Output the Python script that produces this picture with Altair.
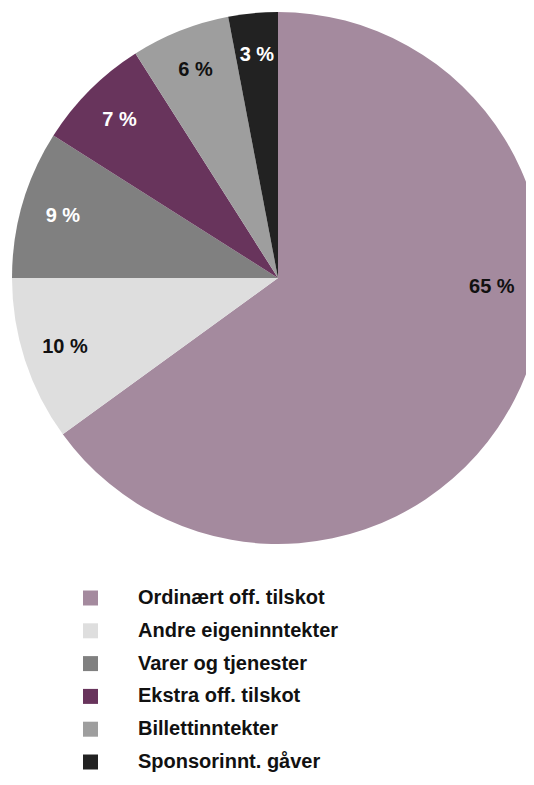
import altair as alt
import pandas as pd
import math

categories = ["Ordinært off. tilskot", "Andre eigeninntekter", "Varer og tjenester",
              "Ekstra off. tilskot", "Billettinntekter", "Sponsorinnt. gåver"]
values = [65, 10, 9, 7, 6, 3]
colors = ["#a48a9e", "#dedede", "#808080", "#68345c", "#9e9e9e", "#222222"]
dark_label = ["Ordinært off. tilskot", "Andre eigeninntekter", "Billettinntekter"]

df = pd.DataFrame({"cat": categories, "value": values, "idx": list(range(len(values)))})
df["label"] = df["value"].astype(str) + " %"

FONT = "Liberation Sans"
CX, CY, R = 270, 270, 266
theta_scale = alt.Scale(domain=[0, 100], range=[0, 2 * math.pi])
color_scale = alt.Scale(domain=categories, range=colors)

base = alt.Chart(df)

arcs = base.mark_arc(outerRadius=R, stroke=None).encode(
    theta=alt.Theta("value:Q", stack=True, scale=theta_scale),
    order=alt.Order("idx:Q"),
    color=alt.Color("cat:N", scale=color_scale, legend=None),
    x=alt.value(CX),
    y=alt.value(CY),
)

labels = base.transform_window(
    cum="sum(value)", sort=[alt.SortField("idx")], frame=[None, 0]
).transform_calculate(
    mid="datum.idx == 0 ? datum.value * 0.395 : datum.cum - datum.value / 2",
    lr="datum.idx == 0 ? 214 : 224",
).mark_text(font=FONT, fontWeight="bold", fontSize=20,
            align="center", baseline="middle").encode(
    theta=alt.Theta("mid:Q", scale=theta_scale),
    radius=alt.Radius("lr:Q", scale=None),
    text="label:N",
    color=alt.condition(alt.FieldOneOfPredicate(field="cat", oneOf=dark_label),
                        alt.value("#111111"), alt.value("#ffffff")),
    x=alt.value(CX),
    y=alt.value(CY),
)

leg_y = alt.Y("cat:N", sort=categories, axis=None,
              scale=alt.Scale(type="point", range=[590, 754], padding=0))

leg_sq = base.mark_square(size=225, opacity=1).encode(
    x=alt.value(82.5),
    y=leg_y,
    color=alt.Color("cat:N", scale=color_scale, legend=None),
)

leg_txt = base.mark_text(font=FONT, fontWeight="bold", fontSize=20, align="left",
                         baseline="middle", color="#111111").encode(
    x=alt.value(130),
    y=leg_y,
    text="cat:N",
)

chart = alt.layer(arcs, labels, leg_sq, leg_txt).properties(
    width=518, height=768, autosize=alt.AutoSizeParams(type="none"), padding=0
).configure_view(stroke=None)

chart.save("out.html", embed_options={"renderer": "svg", "actions": False})
